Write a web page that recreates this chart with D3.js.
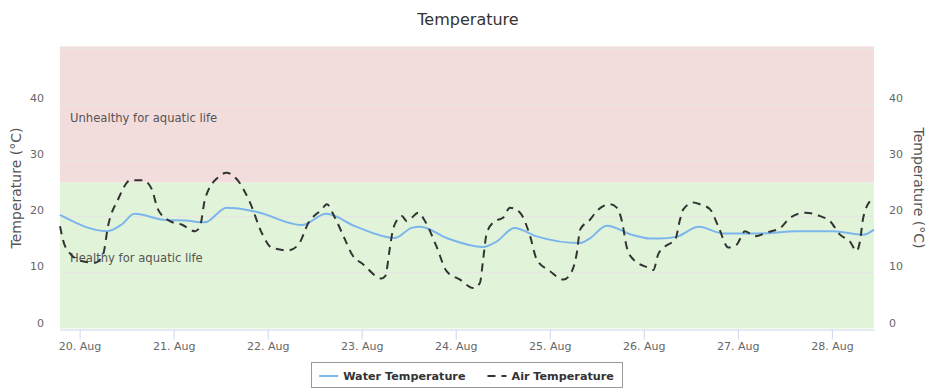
<!DOCTYPE html>
<html><head><meta charset="utf-8">
<script src="https://cdn.jsdelivr.net/npm/d3@7"></script>
<style>body{margin:0;background:#fff;} svg{display:block;font-family:"DejaVu Sans",sans-serif;}</style>
</head><body><svg id="c" width="936" height="390"></svg>
<script>
const title = "Temperature";
const yTicks = [0, 10, 20, 30, 40, 50];
const xTickDays = ["2016-08-20","2016-08-21","2016-08-22","2016-08-23","2016-08-24","2016-08-25","2016-08-26","2016-08-27","2016-08-28"];
const domainStart = "2016-08-19T19:00";
const domainEnd = "2016-08-28T10:45";
const bands = [
  {from: 0, to: 26, label: "Healthy for aquatic life", color: "#e1f4da"},
  {from: 26, to: 50, label: "Unhealthy for aquatic life", color: "#f2dcdc"}
];
const waterTemp = [
  ["2016-08-19T19:00",20.2],["2016-08-20T07:00",17.3],["2016-08-20T10:45",18.5],["2016-08-20T14:00",20.4],
  ["2016-08-20T22:00",19.3],["2016-08-21T03:00",19.2],["2016-08-21T08:00",18.9],["2016-08-21T13:30",21.5],
  ["2016-08-21T16:00",21.4],["2016-08-21T21:30",20.7],["2016-08-22T08:40",18.4],["2016-08-22T15:00",20.4],
  ["2016-08-22T22:20",18.2],["2016-08-23T08:30",16.1],["2016-08-23T12:45",17.9],["2016-08-23T15:00",18.1],
  ["2016-08-23T21:40",16.1],["2016-08-24T07:00",14.5],["2016-08-24T10:30",15.5],["2016-08-24T15:00",17.9],
  ["2016-08-24T20:40",16.4],["2016-08-25T07:40",15.2],["2016-08-25T10:20",16.1],["2016-08-25T14:30",18.3],
  ["2016-08-25T21:20",16.6],["2016-08-26T01:40",16.0],["2016-08-26T04:00",16.0],["2016-08-26T08:20",16.3],
  ["2016-08-26T14:00",18.1],["2016-08-26T20:20",16.9],["2016-08-27T05:00",16.9],["2016-08-27T15:00",17.3],
  ["2016-08-28T00:20",17.3],["2016-08-28T08:00",16.7],["2016-08-28T10:45",17.6]
];
const airTemp = [
  ["2016-08-19T19:00",18.2],["2016-08-19T20:20",14.6],["2016-08-20T00:30",12.0],["2016-08-20T04:00",11.7],
  ["2016-08-20T06:00",13.2],["2016-08-20T07:15",18.2],["2016-08-20T09:50",23.0],["2016-08-20T13:00",26.4],
  ["2016-08-20T16:10",26.4],["2016-08-20T18:25",24.8],["2016-08-20T20:00",21.2],["2016-08-20T23:05",19.1],
  ["2016-08-21T02:00",18.5],["2016-08-21T05:30",17.3],["2016-08-21T06:45",18.2],["2016-08-21T08:00",23.0],
  ["2016-08-21T11:20",26.9],["2016-08-21T13:30",27.7],["2016-08-21T16:05",26.6],["2016-08-21T19:30",22.4],
  ["2016-08-21T22:30",17.0],["2016-08-22T01:00",14.4],["2016-08-22T05:15",13.9],["2016-08-22T07:50",14.9],
  ["2016-08-22T10:25",18.8],["2016-08-22T13:50",21.2],["2016-08-22T15:05",22.1],["2016-08-22T17:10",19.7],
  ["2016-08-22T19:45",15.8],["2016-08-22T21:30",13.2],["2016-08-23T00:25",11.4],["2016-08-23T05:05",8.9],
  ["2016-08-23T06:00",9.3],["2016-08-23T07:15",14.6],["2016-08-23T08:05",17.9],["2016-08-23T10:15",20.0],
  ["2016-08-23T11:30",19.1],["2016-08-23T12:45",19.7],["2016-08-23T14:25",20.6],["2016-08-23T16:10",19.1],
  ["2016-08-23T19:05",14.6],["2016-08-23T21:40",10.2],["2016-08-24T01:05",8.7],["2016-08-24T04:30",7.2],
  ["2016-08-24T06:10",8.1],["2016-08-24T07:00",12.3],["2016-08-24T07:55",17.0],["2016-08-24T10:00",19.1],
  ["2016-08-24T12:05",19.7],["2016-08-24T13:50",21.5],["2016-08-24T16:25",20.6],["2016-08-24T19:00",16.4],
  ["2016-08-24T20:40",12.3],["2016-08-25T00:05",10.2],["2016-08-25T03:30",8.7],["2016-08-25T05:10",9.6],
  ["2016-08-25T06:55",13.5],["2016-08-25T07:45",17.6],["2016-08-25T10:20",19.4],["2016-08-25T12:00",20.9],
  ["2016-08-25T15:25",22.1],["2016-08-25T17:05",21.5],["2016-08-25T18:25",19.1],["2016-08-25T19:40",14.4],
  ["2016-08-25T21:20",12.3],["2016-08-26T01:10",10.8],["2016-08-26T02:25",10.4],["2016-08-26T03:40",13.2],
  ["2016-08-26T05:25",14.6],["2016-08-26T08:00",15.8],["2016-08-26T09:15",19.4],["2016-08-26T10:05",21.2],
  ["2016-08-26T12:35",22.4],["2016-08-26T14:20",22.1],["2016-08-26T16:55",21.2],["2016-08-26T19:00",18.2],
  ["2016-08-26T21:35",14.4],["2016-08-26T23:40",14.9],["2016-08-27T01:50",17.3],["2016-08-27T04:25",16.4],
  ["2016-08-27T07:25",17.1],["2016-08-27T10:50",17.9],["2016-08-27T13:20",19.7],["2016-08-27T17:10",20.6],
  ["2016-08-27T21:00",20.0],["2016-08-27T23:30",19.1],["2016-08-28T02:05",16.7],["2016-08-28T04:35",15.5],
  ["2016-08-28T06:20",13.8],["2016-08-28T07:10",15.5],["2016-08-28T08:00",19.7],["2016-08-28T10:10",23.0],
  ["2016-08-28T10:45",23.3]
];
const seriesNames = ["Water Temperature", "Air Temperature"];
const seriesColors = ["#7cb5ec", "#333333"];
const seriesDash = [null, "8,6"];
const axisTitle = "Temperature (°C)";

const parse = d3.utcParse("%Y-%m-%dT%H:%M");
const parseDay = d3.utcParse("%Y-%m-%d");
const svg = d3.select("#c");
const L = 60, R = 874, T = 47.5, B = 328.5;
const x = d3.scaleUtc().domain([parse(domainStart), parse(domainEnd)]).range([L, R]);
const y = d3.scaleLinear().domain([0, 50]).range([B, T]);

// bands
svg.selectAll("rect.band").data(bands).join("rect").attr("class","band")
  .attr("x", L).attr("width", R - L)
  .attr("y", d => y(d.to) - (d.to === 50 ? 1 : 0)).attr("height", d => y(d.from) - y(d.to) + (d.to === 50 ? 1 : 0))
  .attr("fill", d => d.color);

// grid
svg.selectAll("line.grid").data(yTicks.filter(t => t > 0)).join("line").attr("class","grid")
  .attr("x1", L).attr("x2", R).attr("y1", d => Math.round(y(d)) + 0.5).attr("y2", d => Math.round(y(d)) + 0.5)
  .attr("stroke", "#e6e6e6").attr("stroke-width", 1);

// band labels
svg.selectAll("text.bl").data(bands).join("text").attr("class","bl")
  .attr("x", 70).attr("y", (d, i) => i === 0 ? 262 : 122)
  .attr("font-size", 11.6).attr("fill", "#555").text(d => d.label);

// x axis
const xAxis = d3.axisBottom(x).tickValues(xTickDays.map(parseDay))
  .tickFormat(d3.utcFormat("%d. %b")).tickSize(10).tickPadding(3).tickSizeOuter(0);
const gx = svg.append("g").attr("transform", `translate(0,${Math.round(B)+0.5})`).call(xAxis);
gx.select(".domain").attr("stroke", "#ccd6eb");
gx.selectAll(".tick line").attr("stroke", "#ccd6eb");
gx.selectAll(".tick text").attr("fill", "#666").attr("font-size", 11).attr("font-family", "DejaVu Sans");

// y axes labels
const ylab = yTicks.filter(t => t < 50);
const yl = d3.axisLeft(y).tickValues(ylab).tickSize(0).tickPadding(16);
const gyl = svg.append("g").attr("transform", `translate(${L},-6)`).call(yl);
gyl.select(".domain").remove();
gyl.selectAll("text").attr("fill", "#666").attr("font-size", 11).attr("font-family", "DejaVu Sans");
const yr = d3.axisRight(y).tickValues(ylab).tickSize(0).tickPadding(15);
const gyr = svg.append("g").attr("transform", `translate(${R},-6)`).call(yr);
gyr.select(".domain").remove();
gyr.selectAll("text").attr("fill", "#666").attr("font-size", 11).attr("font-family", "DejaVu Sans");

// axis titles
const midY = (T + B) / 2;
svg.append("text").attr("transform", `translate(21,${midY}) rotate(-90)`).attr("text-anchor","middle")
  .attr("font-size", 14).attr("fill", "#555").text(axisTitle);
svg.append("text").attr("transform", `translate(914,${midY}) rotate(90)`).attr("text-anchor","middle")
  .attr("font-size", 14).attr("fill", "#555").text(axisTitle);

// lines
const line = d3.line().x(d => x(parse(d[0]))).y(d => y(d[1])).curve(d3.curveMonotoneX);
[waterTemp, airTemp].forEach((data, i) => {
  svg.append("path").datum(data).attr("d", line).attr("fill","none")
    .attr("stroke", seriesColors[i]).attr("stroke-width", 2).attr("stroke-dasharray", seriesDash[i]);
});

// title
svg.append("text").attr("x", 468).attr("y", 25).attr("text-anchor","middle")
  .attr("font-size", 16).attr("fill", "#333").text(title);

// legend
const lg = svg.append("g");
const box = lg.append("rect").attr("y", 362.5).attr("height", 25)
  .attr("fill", "none").attr("stroke", "#999");
let cx = 0;
const items = [];
seriesNames.forEach((name, i) => {
  const g = lg.append("g");
  g.append("line").attr("x1", cx).attr("x2", cx + 19).attr("y1", 376).attr("y2", 376)
    .attr("stroke", seriesColors[i]).attr("stroke-width", 2).attr("stroke-dasharray", seriesDash[i]);
  const t = g.append("text").attr("x", cx + 24).attr("y", 380).attr("font-size", 11.2).attr("font-weight", "bold")
    .attr("fill", "#333").text(name);
  cx += 24 + t.node().getComputedTextLength() + 22;
});
const totalW = cx - 22;
const x0 = 466.5 - totalW / 2;
lg.selectAll("g").attr("transform", `translate(${x0},0)`);
box.attr("x", Math.round(x0 - 8) + 0.5).attr("width", Math.round(totalW + 16));
</script></body></html>
